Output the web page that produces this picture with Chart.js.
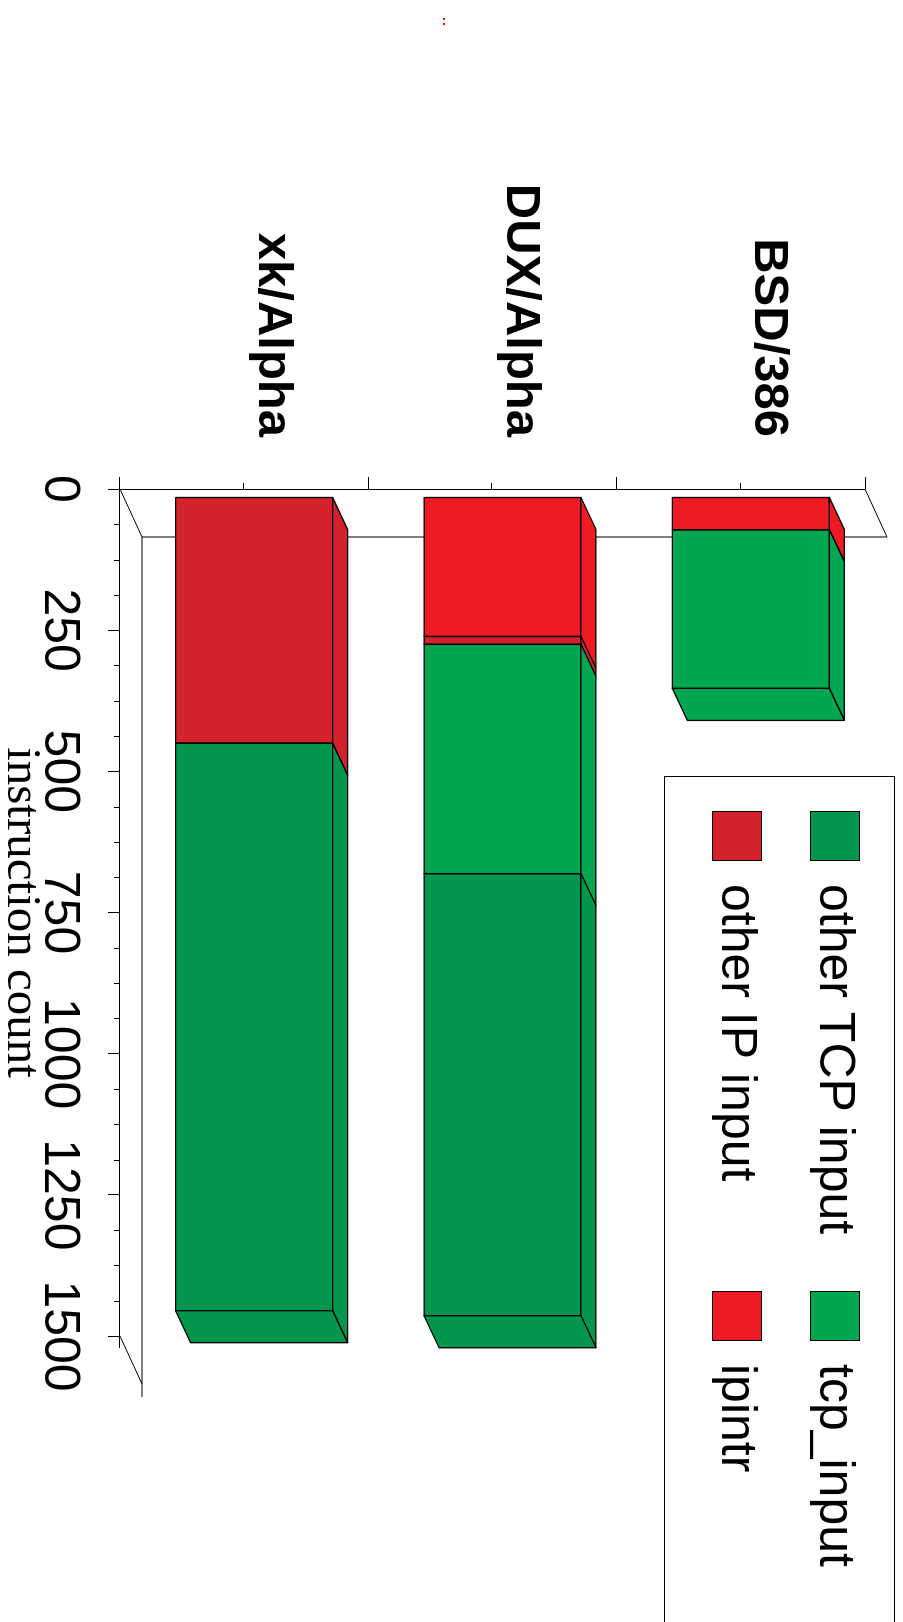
<!DOCTYPE html>
<html>
<head>
<meta charset="utf-8">
<script src="https://cdn.jsdelivr.net/npm/chart.js@4/dist/chart.umd.min.js"></script>
<style>
  html, body { margin: 0; padding: 0; background: #fff; overflow: hidden; }
  #wrap { position: relative; width: 903px; height: 1622px; overflow: hidden; }
  /* chart is drawn lying on its side and turned a quarter clockwise */
  #chart { position: absolute; left: 0; top: 0; transform-origin: 0 0; transform: translate(903px, 0) rotate(90deg); }
</style>
</head>
<body>
<div id="wrap"><canvas id="chart" width="1622" height="903"></canvas></div>
<script>
const systems = ["BSD/386", "DUX/Alpha", "xk/Alpha"];
const ipintr = [58, 247, 0];
const otherIpInput = [0, 14, 436];
const tcpInput = [281, 406, 0];
const otherTcpInput = [0, 783, 1005];
const valueTicks = [0, 250, 500, 750, 1000, 1250, 1500];

// 3d look (canvas px, before rotation)
const depth = { dx: 32, dy: -15 };
const floorDepth = { dx: 48, dy: -22 };
const barShift = { dx: 8, dy: -10 };
const edgeWidth = 1.3;

function poly(ctx, pts, fill) {
  ctx.beginPath();
  ctx.moveTo(pts[0][0], pts[0][1]);
  for (let i = 1; i < pts.length; i++) ctx.lineTo(pts[i][0], pts[i][1]);
  ctx.closePath();
  ctx.fillStyle = fill;
  ctx.fill();
  ctx.stroke();
}

const box3d = {
  id: "box3d",
  beforeDatasetsDraw(chart) {
    const { ctx, chartArea: a, scales } = chart;
    ctx.save();
    ctx.strokeStyle = "#000";
    ctx.lineWidth = 1;
    ctx.beginPath();
    // floor of the box
    ctx.moveTo(a.left, a.bottom);
    ctx.lineTo(a.left + floorDepth.dx, a.bottom + floorDepth.dy);
    ctx.lineTo(a.left + floorDepth.dx, a.top + floorDepth.dy);
    ctx.lineTo(a.left, a.top);
    ctx.moveTo(a.left + floorDepth.dx, a.bottom + floorDepth.dy);
    ctx.lineTo(a.right + floorDepth.dx + 13, a.bottom + floorDepth.dy);
    ctx.moveTo(a.right, a.bottom);
    ctx.lineTo(a.right + floorDepth.dx, a.bottom + floorDepth.dy);
    ctx.moveTo(a.right, a.bottom + 0.5);
    ctx.lineTo(a.right + 12, a.bottom + 0.5);
    // minor ticks on value axis
    for (let i = 0; i < valueTicks.length - 1; i++) {
      const step = (valueTicks[i + 1] - valueTicks[i]) / 4;
      for (let k = 1; k < 4; k++) {
        const px = Math.round(scales.x.getPixelForValue(valueTicks[i] + k * step)) + 0.5;
        ctx.moveTo(px, a.bottom);
        ctx.lineTo(px, a.bottom + 6);
      }
    }
    // minor ticks at category centres
    systems.forEach((s, i) => {
      const py = Math.round(scales.y.getPixelForValue(i)) + 0.5;
      ctx.moveTo(a.left - 6, py);
      ctx.lineTo(a.left, py);
    });
    ctx.stroke();
    ctx.restore();
    ctx.save();
    ctx.translate(barShift.dx, barShift.dy);
  },
  afterDatasetsDraw(chart) {
    const { ctx } = chart;
    ctx.strokeStyle = "#000";
    ctx.lineWidth = edgeWidth;
    ctx.lineJoin = "round";
    systems.forEach((s, i) => {
      let last = null;
      chart.data.datasets.forEach((ds, d) => {
        const bar = chart.getDatasetMeta(d).data[i];
        const { x, y, base, height } = bar.getProps(["x", "y", "base", "height"], true);
        if (Math.abs(x - base) < 0.5) return;
        const top = y - height / 2;
        // front face outline
        ctx.strokeRect(base, top, x - base, height);
        // side face
        poly(ctx, [[base, top], [x, top], [x + depth.dx, top + depth.dy], [base + depth.dx, top + depth.dy]], ds.backgroundColor);
        if (!last || x > last.x) last = { x, top, bottom: y + height / 2, color: ds.backgroundColor };
      });
      if (last) {
        poly(ctx, [[last.x, last.top], [last.x, last.bottom], [last.x + depth.dx, last.bottom + depth.dy], [last.x + depth.dx, last.top + depth.dy]], last.color);
      }
    });
    ctx.restore();
  },
  afterDraw(chart) {
    const { ctx } = chart;
    ctx.save();
    // legend box, runs off the page edge
    ctx.fillStyle = "#fff";
    ctx.fillRect(776, 8, 900, 230);
    ctx.strokeStyle = "#000";
    ctx.lineWidth = 1;
    ctx.strokeRect(776.5, 8.5, 900, 230);
    const items = chart.data.datasets.slice().reverse();
    const colX = [811, 1291];
    const rowY = [43, 141];
    ctx.font = '50px "Liberation Sans", Arial, sans-serif';
    ctx.textBaseline = "middle";
    ctx.textAlign = "left";
    items.forEach((ds, k) => {
      const x = colX[k % 2], y = rowY[Math.floor(k / 2)];
      ctx.fillStyle = ds.backgroundColor;
      ctx.fillRect(x, y, 49, 49);
      ctx.strokeRect(x + 0.5, y + 0.5, 49, 49);
      ctx.fillStyle = "#000";
      ctx.fillText(ds.label, x + 73, y + 26);
    });
    // two tiny red marks near the page edge
    ctx.fillStyle = "#ee1111";
    ctx.fillRect(18, 458, 2, 2);
    ctx.fillRect(23, 458, 2, 2);
    ctx.restore();
  }
};

const chart = new Chart(document.getElementById("chart"), {
  type: "bar",
  data: {
    labels: systems,
    datasets: [
      { label: "ipintr", data: ipintr, backgroundColor: "#ed1c24" },
      { label: "other IP input", data: otherIpInput, backgroundColor: "#d2232a" },
      { label: "tcp_input", data: tcpInput, backgroundColor: "#00a650" },
      { label: "other TCP input", data: otherTcpInput, backgroundColor: "#00964e" },
    ],
  },
  options: {
    indexAxis: "y",
    responsive: false,
    animation: false,
    layout: { padding: { top: 38, right: 286, left: 0, bottom: 0 } },
    datasets: {
      bar: {
        borderWidth: 0,
        inflateAmount: 0,
        barPercentage: 0.632,
        categoryPercentage: 1,
      },
    },
    plugins: {
      legend: { display: false },
      tooltip: { enabled: false },
    },
    scales: {
      x: {
        stacked: true,
        min: 0,
        max: 1500,
        afterBuildTicks: (scale) => {
          scale.ticks = valueTicks.map((v) => ({ value: v }));
        },
        afterFit: (scale) => {
          scale.height = 120;
          scale.paddingLeft = 0;
          scale.paddingRight = 0;
        },
        ticks: {
          callback: (v) => String(v),
          autoSkip: false,
          maxRotation: 0,
          padding: 19,
          color: "#000",
          font: { family: '"Liberation Sans", Arial, sans-serif', size: 50 },
        },
        grid: { drawOnChartArea: false, tickLength: 12, color: "#000" },
        border: { color: "#000", width: 1 },
        title: {
          display: true,
          text: "instruction count",
          color: "#000",
          font: { family: '"Liberation Serif", "Times New Roman", serif', size: 49, lineHeight: 1 },
          padding: { top: 0, bottom: -4 },
        },
      },
      y: {
        stacked: true,
        afterFit: (scale) => {
          scale.width = 489;
          scale.paddingTop = 0;
          scale.paddingBottom = 0;
        },
        ticks: {
          padding: 40,
          labelOffset: -28,
          color: "#000",
          font: { family: '"Liberation Sans", Arial, sans-serif', size: 49, weight: "bold" },
        },
        grid: { offset: true, drawOnChartArea: false, tickLength: 12, color: "#000" },
        border: { color: "#000", width: 1 },
      },
    },
  },
  plugins: [box3d],
});
</script>
</body>
</html>
